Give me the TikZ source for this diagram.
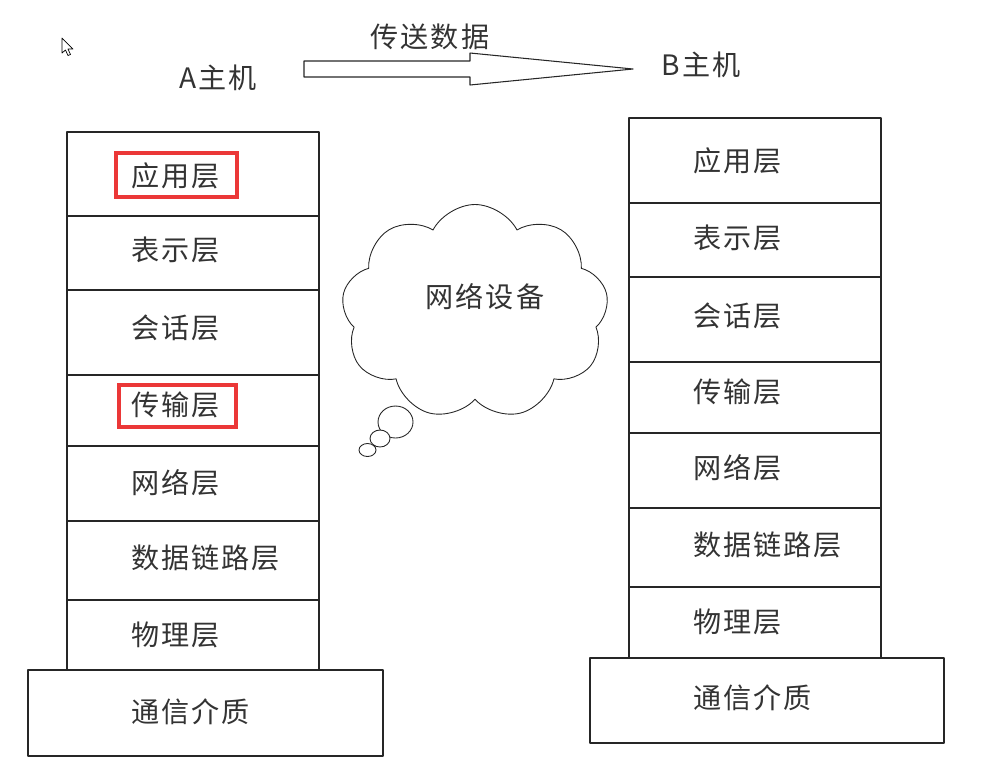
\documentclass[tikz,border=0pt]{standalone}
\usepackage{fontspec}
\newfontfamily\cjk{Noto Sans CJK SC}[LetterSpace=7]
\usetikzlibrary{shapes.symbols,shapes.geometric}
\definecolor{osimark}{RGB}{235,55,55}

\begin{document}
\begin{tikzpicture}
% OSI layers of two hosts, one px of the sketch = \px
\def\px{0.02cm}
\providecommand{\osiLineColor}{black!85}
\providecommand{\osiTextColor}{black!80}
\providecommand{\osiMarkColor}{osimark}
\providecommand{\osiLineWidth}{0.6pt}
\providecommand{\osiMarkWidth}{1.8pt}
\begin{scope}[x=\px, y=-\px, line cap=round, line join=round,
  layer/.style={draw=\osiLineColor, line width=\osiLineWidth, fill=white, inner sep=0pt, minimum width=252*\px},
  medium/.style={draw=\osiLineColor, line width=\osiLineWidth, inner sep=0pt},
  lbl/.style={anchor=west, inner sep=0pt, text=\osiTextColor, font=\cjk\fontsize{16pt}{18pt}\selectfont},
  markbox/.style={draw=\osiMarkColor, line width=\osiMarkWidth, line join=miter, inner sep=0pt},
  bubble/.style={ellipse, draw=\osiLineColor, line width=0.5pt, fill=white, inner sep=0pt}]
  \useasboundingbox (0,0) rectangle (989,775);
  % Mouse pointer left in the screenshot
  \draw[fill=white, line width=0.4pt] (62,38) -- (62,53) -- (65.5,50) -- (68,55.5) -- (70.5,54.5) -- (68,49) -- (73,49) -- cycle;
  % Header
  \node[lbl, anchor=center] (hostA) at (218,78) {A主机};
  \node[lbl, anchor=center] (hostB) at (701,65) {B主机};
  \node[lbl, anchor=center] (send) at (430,37) {传送数据};
  \draw[draw=\osiLineColor, line width=\osiLineWidth] (304,61) -- (470,61) -- (470,53) -- (633,69) -- (470,85) -- (470,77) -- (304,77) -- cycle;
  % Host A stack
  \node[layer, minimum height=84*\px] (a7) at (193,174) {};
  \node[layer, minimum height=74*\px] (a6) at (193,253) {};
  \node[layer, minimum height=85*\px] (a5) at (193,332.5) {};
  \node[layer, minimum height=71*\px] (a4) at (193,410.5) {};
  \node[layer, minimum height=75*\px] (a3) at (193,483.5) {};
  \node[layer, minimum height=79*\px] (a2) at (193,560.5) {};
  \node[layer, minimum height=70*\px] (a1) at (193,635) {};
  \node[medium, minimum width=355*\px, minimum height=86*\px] (a0) at (205.5,713) {};
  \node[lbl] (a7t) at (131,176) {应用层};
  \node[lbl] (a6t) at (131,250) {表示层};
  \node[lbl] (a5t) at (131,328) {会话层};
  \node[lbl] (a4t) at (131,405) {传输层};
  \node[lbl] (a3t) at (131,483) {网络层};
  \node[lbl] (a2t) at (131,558) {数据链路层};
  \node[lbl] (a1t) at (131,635) {物理层};
  \node[lbl] (a0t) at (131,712) {通信介质};
  % Marked layers
  \node[markbox, minimum width=121*\px, minimum height=44*\px] (markApp) at (176.5,175) {};
  \node[markbox, minimum width=117*\px, minimum height=42*\px] (markTrans) at (177.5,406) {};
  % Host B stack
  \node[layer, minimum height=85*\px] (b7) at (755,160.5) {};
  \node[layer, minimum height=74*\px] (b6) at (755,240) {};
  \node[layer, minimum height=85*\px] (b5) at (755,319.5) {};
  \node[layer, minimum height=71*\px] (b4) at (755,397.5) {};
  \node[layer, minimum height=75*\px] (b3) at (755,470.5) {};
  \node[layer, minimum height=79*\px] (b2) at (755,547.5) {};
  \node[layer, minimum height=71*\px] (b1) at (755,622.5) {};
  \node[medium, minimum width=354*\px, minimum height=85*\px] (b0) at (767,700.5) {};
  \node[lbl] (b7t) at (693,161) {应用层};
  \node[lbl] (b6t) at (693,238) {表示层};
  \node[lbl] (b5t) at (693,316) {会话层};
  \node[lbl] (b4t) at (693,392) {传输层};
  \node[lbl] (b3t) at (693,468) {网络层};
  \node[lbl] (b2t) at (693,545) {数据链路层};
  \node[lbl] (b1t) at (693,622) {物理层};
  \node[lbl] (b0t) at (693,698) {通信介质};
  % Network cloud
  \node[cloud, draw=\osiLineColor, line width=0.5pt, fill=white, cloud puffs=9, cloud puff arc=125, aspect=1.25,
    minimum width=267*\px, minimum height=215*\px] (netcloud) at (475,312) {};
  \node[bubble, minimum width=35*\px, minimum height=32*\px] (bub1) at (395.5,422) {};
  \node[bubble, minimum width=20*\px, minimum height=17*\px] (bub2) at (380,438.5) {};
  \node[bubble, minimum width=17*\px, minimum height=13*\px] (bub3) at (367.5,450) {};
  \node[lbl, anchor=center] (netdev) at (485,297) {网络设备};
\end{scope}
\end{tikzpicture}
\end{document}
